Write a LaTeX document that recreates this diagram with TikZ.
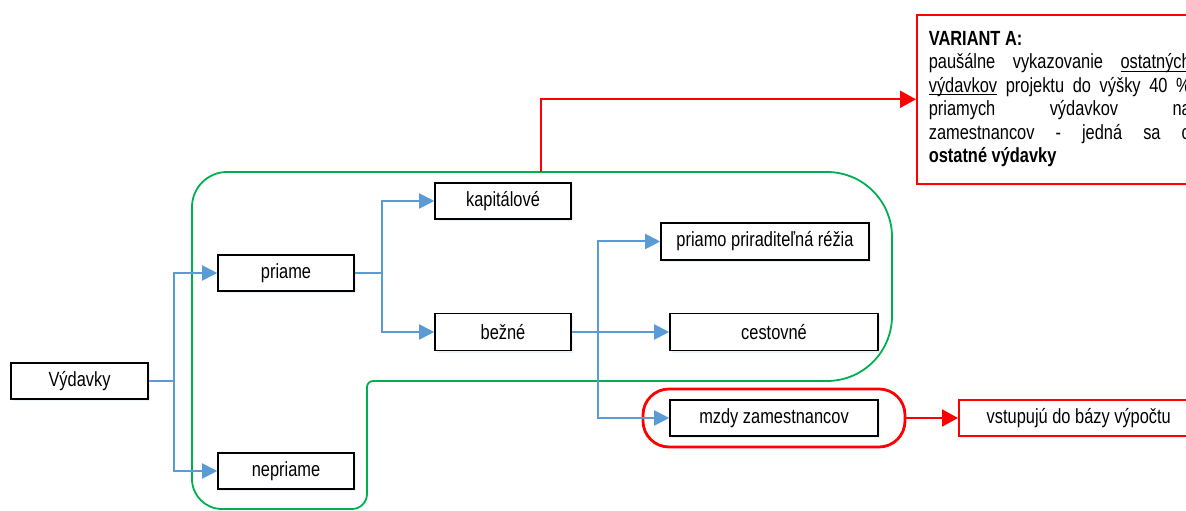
\documentclass[tikz,border=0pt]{standalone}
\usepackage{fontspec}
\setmainfont{Liberation Sans}[FakeStretch=0.8]
\usetikzlibrary{arrows.meta,shadows}
\definecolor{linkblue}{HTML}{5B9BD5}
\definecolor{grpgreen}{HTML}{00B050}
\definecolor{hotred}{HTML}{FF0000}
% underline drawn just below the baseline
\newcommand\lowul[1]{\setbox0\hbox{#1}\rlap{\rule[-2.6pt]{\wd0}{0.9pt}}\box0\relax}
\begin{document}
\begin{tikzpicture}[x=1pt,y=1pt,
  font=\fontsize{20.5}{23.5}\selectfont,
  softshadow/.style={drop shadow={shadow xshift=1.5pt,shadow yshift=-2.5pt,fill=linkblue!30,opacity=0.45}},
  box/.style={draw=black, line width=1.6pt, fill=white, inner sep=0pt,
    minimum height=36pt, softshadow},
  redbox/.style={draw=hotred, line width=1.6pt, fill=white, inner sep=0pt,
    minimum height=36pt, softshadow},
  link/.style={draw=linkblue, line width=2pt, -{Triangle[length=15pt,width=15pt]}},
  redlink/.style={draw=hotred, line width=2.2pt, -{Triangle[length=16pt,width=17pt]}},
  group/.style={draw=grpgreen, line width=1.8pt},
  ring/.style={draw=hotred, line width=2.8pt, rounded corners=26pt}
]
\useasboundingbox (0,0) rectangle (1186,511);
\clip (0,0) rectangle (1186,511);

% green outline grouping the direct expenses
\draw[group] (192,32) -- (192,304) arc[start angle=180,end angle=90,radius=35]
  -- (827,339) arc[start angle=90,end angle=0,radius=65]
  -- (892,195) arc[start angle=0,end angle=-90,radius=65]
  -- (373,130) arc[start angle=90,end angle=180,radius=6]
  -- (367,17) arc[start angle=0,end angle=-90,radius=15]
  -- (222,2) arc[start angle=-90,end angle=-180,radius=30] -- cycle;

% red ring around the wage box
\draw[ring] (643,64) rectangle (905,122);
\node[coordinate] (ringE) at (905,93) {};

% boxes
\node[box, minimum width=137pt] (vyd) at (79.5,130) {Výdavky};
\node[box, minimum width=136pt] (priame) at (286,238) {priame};
\node[box, minimum width=136pt] (nepriame) at (286,40) {nepriame};
\node[box, minimum width=136pt] (kap) at (503,310) {kapitálové};
\node[box, minimum width=136pt, minimum height=37pt] (bezne) at (503,179) {bežné};
\node[box, minimum width=208pt, minimum height=37pt] (rezia) at (765,269.5) {priamo priraditeľná réžia};
\node[box, minimum width=208pt, minimum height=37pt] (cest) at (774,179) {cestovné};
\node[box, minimum width=208pt] (mzdy) at (774,93) {mzdy zamestnancov};
\node[redbox, minimum width=240pt, anchor=west] (baza) at (958,93) {vstupujú do bázy výpočtu};

\node[redbox, anchor=north west, align=left, inner xsep=12pt, inner ysep=0pt,
  minimum height=169pt] (variant) at (916,497) {%
  \textbf{VARIANT A:}\\
  \makebox[262pt][s]{paušálne vykazovanie \lowul{ostatných}}\\
  \makebox[262pt][s]{\lowul{výdavkov} projektu do výšky 40 \%}\\
  \makebox[262pt][s]{priamych výdavkov na}\\
  \makebox[262pt][s]{zamestnancov - jedná sa o}\\
  \textbf{ostatné výdavky}};

% junction points of the tree connectors
\coordinate (j1) at (174,130);
\coordinate (j2) at (382,238);
\coordinate (j3) at (598,179);
\coordinate (gtop) at (541,339);

\draw[link] (vyd.east) -- (j1) |- (priame.west);
\draw[link] (vyd.east) -- (j1) |- (nepriame.west);
\draw[link] (priame.east) -- (j2) |- (kap.west);
\draw[link] (priame.east) -- (j2) |- (bezne.west);
\draw[link] (bezne.east) -- (cest.west);
\draw[link] (j3) |- (rezia.west);
\draw[link] (j3) |- (mzdy.west);

\draw[redlink] (gtop) |- (variant.west);
\draw[redlink] (ringE) -- (baza.west);
\end{tikzpicture}
\end{document}
